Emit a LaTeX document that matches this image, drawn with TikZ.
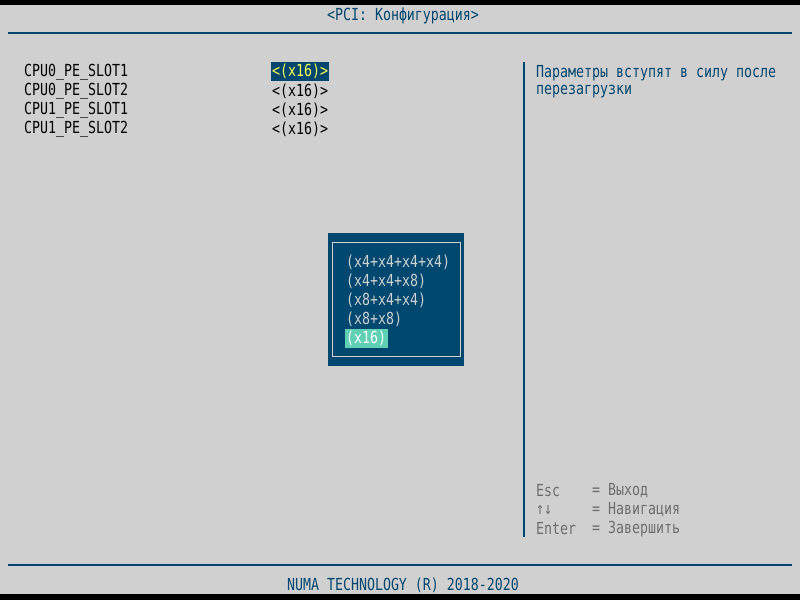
\documentclass[tikz,border=0pt]{standalone}
\usepackage{fontspec}
\newfontfamily\bios[FakeStretch=0.8]{DejaVu Sans Mono}
\definecolor{bg}{HTML}{D0D0D0}
\definecolor{dblue}{HTML}{00466E}
\definecolor{popbg}{HTML}{004870}
\definecolor{hiyel}{HTML}{FFFF55}
\definecolor{teal}{HTML}{5FD0B4}
\definecolor{popfg}{HTML}{D0D0D0}
\definecolor{hgray}{HTML}{6E6E6E}
\begin{document}
\begin{tikzpicture}[x=1pt,y=-1pt,
  txt/.style={inner sep=0pt,anchor=west,font=\bios\fontsize{16.6}{20}\selectfont},
  ctxt/.style={inner sep=0pt,anchor=center,font=\bios\fontsize{16.6}{20}\selectfont},
  item/.style={txt,text=black},
  blue/.style={txt,text=dblue},
  opt/.style={txt,text=popfg},
  help/.style={txt,text=hgray},
  rule/.style={draw=dblue,line width=1.2pt}]
\useasboundingbox (0,0) rectangle (800,600);
\fill[bg] (0,0) rectangle (800,600);
\fill[black] (0,0) rectangle (800,4.5);
\fill[black] (0,593.5) rectangle (800,600);
% title
\node[ctxt,text=dblue] (title) at (403,16) {<PCI: Конфигурация>};
\draw[rule] (8,33) -- (792,33);
% items
\node[item] (i1) at (24,72) {CPU0\_PE\_SLOT1};
\node[item] (i2) at (24,91) {CPU0\_PE\_SLOT2};
\node[item] (i3) at (24,110) {CPU1\_PE\_SLOT1};
\node[item] (i4) at (24,129) {CPU1\_PE\_SLOT2};
\node[txt,text=hiyel,fill=dblue,inner xsep=1pt,minimum height=19pt] (v1) at (271,71.5) {<(x16)>};
\node[item] (v2) at (272,91) {<(x16)>};
\node[item] (v3) at (272,110) {<(x16)>};
\node[item] (v4) at (272,129) {<(x16)>};
% separator
\draw[draw=dblue,line width=2pt] (524,62) -- (524,537);
\node[blue] (h1) at (536,73) {Параметры вступят в силу после};
\node[blue] (h2) at (536,92) {перезагрузки};
% popup
\fill[popbg] (328,233) rectangle (464,366);
\draw[popfg,line width=1.2pt] (332.5,242.5) rectangle (460.5,356.5);
\node[opt] (o1) at (346,262) {(x4+x4+x4+x4)};
\node[opt] (o2) at (346,281) {(x4+x4+x8)};
\node[opt] (o3) at (346,300) {(x8+x4+x4)};
\node[opt] (o4) at (346,319) {(x8+x8)};
\node[txt,text=white,fill=teal,inner xsep=1.5pt,minimum height=19pt] (o5) at (344.5,338) {(x16)};
% help keys
\node[help] (k1) at (536,491) {Esc};
\node[help] (k2) at (536,510) {↑↓};
\node[help] (k3) at (536,529) {Enter};
\node[help] (d1) at (592,491) {= Выход};
\node[help] (d2) at (592,510) {= Навигация};
\node[help] (d3) at (592,529) {= Завершить};
% footer
\draw[rule] (8,565) -- (792,565);
\node[ctxt,text=dblue] (foot) at (403,585) {NUMA TECHNOLOGY (R) 2018-2020};
\end{tikzpicture}
\end{document}
